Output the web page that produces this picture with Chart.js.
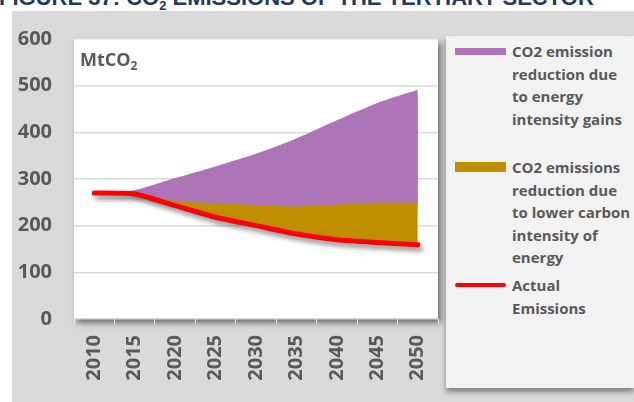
<!DOCTYPE html>
<html>
<head>
<meta charset="utf-8">
<script src="https://cdn.jsdelivr.net/npm/chart.js@4.4.1/dist/chart.umd.min.js"></script>
<style>
  body { margin: 0; width: 634px; height: 402px; overflow: hidden; background: #fff; position: relative; font-family: "Open Sans", sans-serif; }
  #title { position: absolute; left: -1px; top: -13px; font: bold 22px/22px "Liberation Sans Narrow", sans-serif; color: #1f3864; white-space: nowrap; }
  #panel { position: absolute; left: 12px; top: 11px; right: 0; bottom: 0; background: #d9d9d9; }
  #legend { position: absolute; left: 446px; top: 36px; width: 188px; height: 352px; background: #f2f2f2; box-shadow: 0 4px 5px rgba(0,0,0,0.4); }
  .item { position: absolute; left: 9px; }
  .swatch { position: absolute; left: 0; width: 51px; }
  .txt { position: absolute; left: 57px; width: 130px; font-weight: bold; font-size: 15px; line-height: 22.5px; color: #595959; white-space: nowrap; }
  #unit { position: absolute; left: 80px; top: 47px; font-weight: bold; font-size: 18px; color: #595959; z-index: 2; }
  #unit sub { font-size: 12px; vertical-align: -4px; }
  #wrap { position: absolute; left: 0; top: 0; width: 634px; height: 402px; }
</style>
</head>
<body>
<div id="title">FIGURE 37: CO<sub style="font-size:13px">2</sub> EMISSIONS OF THE TERTIARY SECTOR</div>
<div id="panel"></div>
<div id="legend"></div>
<div id="wrap"><canvas id="doThi" width="634" height="402"></canvas></div>
<div id="unit">MtCO<sub>2</sub></div>
<script>
// so lieu doc tu hinh
var years = ['2010', '2015', '2020', '2025', '2030', '2035', '2040', '2045', '2050'];
var actualEmissions = [270, 268, 243, 218, 200, 182, 170, 164, 159];
var carbonReduction = [0, 0, 10, 30, 44, 59, 75, 85, 90];
var intensityReduction = [0, 8, 49, 79, 110, 146, 181, 214, 242];
var yTicks = [0, 100, 200, 300, 400, 500, 600];

var seriesLines = [
    ['CO2 emission', 'reduction due', 'to energy', 'intensity gains'],
    ['CO2 emissions', 'reduction due', 'to lower carbon', 'intensity of', 'energy'],
    ['Actual', 'Emissions']
];
var seriesColors = ['#ad75b7', '#bf8f00', '#ff0000'];

function renderLegend() {
    var tops = [4, 120, 238];
    var html = '';
    seriesLines.forEach(function (lines, i) {
        var sw;
        if (i == 0) sw = 'top:8px;height:7px;background:' + seriesColors[i];
        else if (i == 1) sw = 'top:6px;height:10px;background:' + seriesColors[i];
        else sw = 'top:9px;height:4px;border-radius:2px;background:' + seriesColors[i];
        html += '<div class="item" style="top:' + tops[i] + 'px">' +
            '<div class="swatch" style="' + sw + '"></div>' +
            '<div class="txt">' + lines.join('<br>') + '</div></div>';
    });
    document.getElementById('legend').innerHTML = html;
}

// nen trang cua vung ve + bong do
var plotBg = {
    id: 'plotBg',
    beforeDraw: function (chart) {
        var a = chart.chartArea, ctx = chart.ctx;
        ctx.save();
        ctx.shadowColor = 'rgba(0,0,0,0.5)';
        ctx.shadowBlur = 6;
        ctx.shadowOffsetX = 3;
        ctx.shadowOffsetY = 4;
        ctx.fillStyle = '#fff';
        ctx.fillRect(a.left, a.top, a.right - a.left, a.bottom - a.top);
        ctx.restore();
    },
    beforeDatasetsDraw: function (chart) {
        chart.ctx.save();
        setShadow(chart.ctx, true);
    },
    afterDatasetDraw: function (chart, args) {
        if (args.index == 2) setShadow(chart.ctx, false);
        if (args.index == 0) setShadow(chart.ctx, false);
    },
    beforeDatasetDraw: function (chart, args) {
        if (args.index == 0) setShadow(chart.ctx, true);
    },
    afterDatasetsDraw: function (chart) {
        chart.ctx.restore();
    }
};
function setShadow(ctx, on) {
    ctx.shadowColor = on ? 'rgba(0,0,0,0.45)' : 'rgba(0,0,0,0)';
    ctx.shadowBlur = on ? 5 : 0;
    ctx.shadowOffsetX = on ? 3 : 0;
    ctx.shadowOffsetY = on ? 4 : 0;
}

function renderDoThi() {
    var ctx = document.getElementById('doThi').getContext('2d');
    var tickFont = { family: '"Open Sans", sans-serif', size: 20, weight: 'bold' };
    new Chart(ctx, {
        type: 'line',
        data: {
            labels: years,
            datasets: [{
                label: seriesLines[2].join(' '),
                data: actualEmissions,
                borderColor: seriesColors[2],
                borderWidth: 5,
                borderCapStyle: 'round',
                fill: false,
                pointRadius: 0,
                tension: 0.2
            }, {
                label: seriesLines[1].join(' '),
                data: carbonReduction,
                borderWidth: 0,
                backgroundColor: seriesColors[1],
                fill: '-1',
                pointRadius: 0,
                tension: 0.2
            }, {
                label: seriesLines[0].join(' '),
                data: intensityReduction,
                borderWidth: 0,
                backgroundColor: seriesColors[0],
                fill: '-1',
                pointRadius: 0,
                tension: 0.2
            }]
        },
        options: {
            responsive: false,
            animation: false,
            layout: { padding: { left: 12, top: 39, right: 196, bottom: 0 } },
            plugins: {
                legend: { display: false },
                tooltip: { enabled: false },
                filler: { drawTime: 'beforeDatasetDraw' }
            },
            scales: {
                x: {
                    offset: true,
                    grid: { offset: true, drawOnChartArea: false, drawTicks: true, tickLength: 5, color: '#e8e8e8' },
                    border: { display: false },
                    ticks: { autoSkip: false, minRotation: 90, maxRotation: 90, padding: 11, color: '#595959', font: tickFont },
                    afterFit: function (scale) { scale.height = 83; }
                },
                y: {
                    stacked: true,
                    min: 0,
                    max: 600,
                    afterBuildTicks: function (scale) {
                        scale.ticks = yTicks.map(function (v) { return { value: v }; });
                    },
                    grid: { drawTicks: false, color: '#d9d9d9', lineWidth: 1.5 },
                    border: { display: false },
                    ticks: { padding: 22, color: '#595959', font: tickFont },
                    afterFit: function (scale) { scale.width = 62; }
                }
            }
        },
        plugins: [plotBg]
    });
}

renderLegend();
renderDoThi();
</script>
</body>
</html>
